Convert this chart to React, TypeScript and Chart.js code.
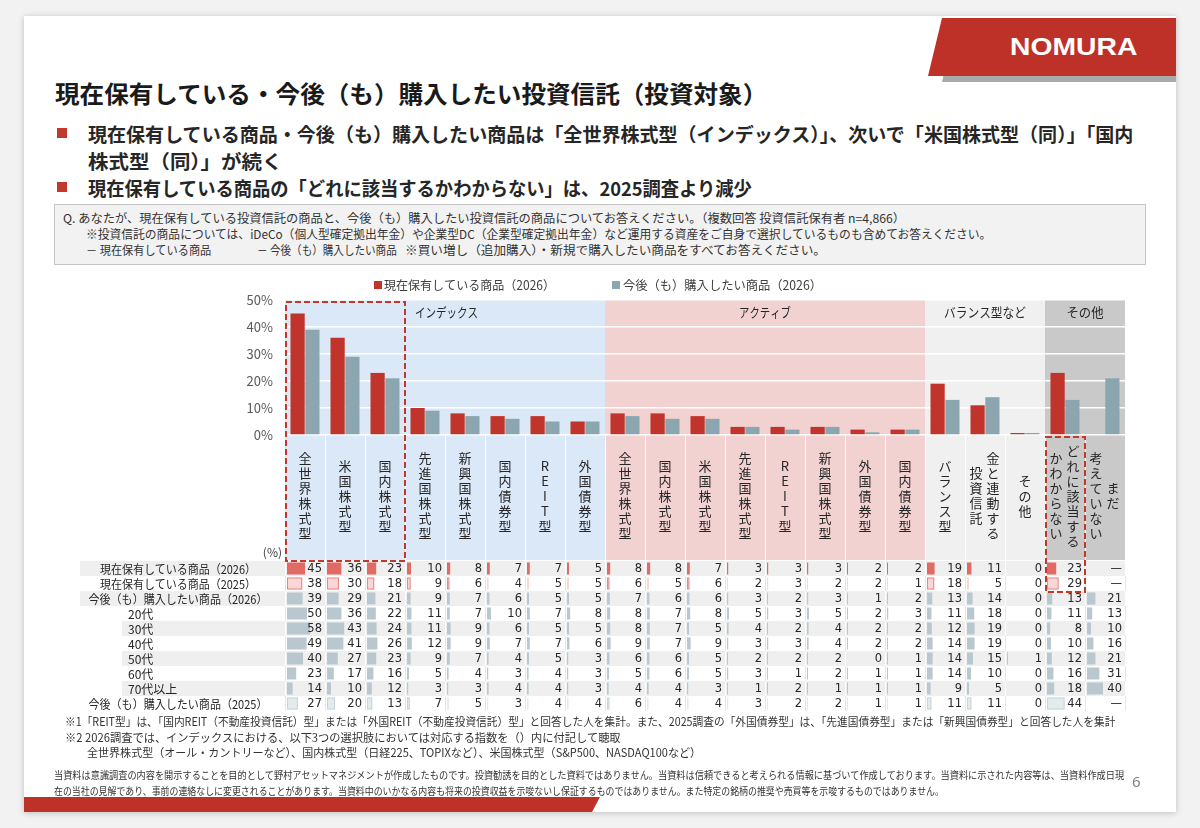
import React, { useEffect, useLayoutEffect, useRef, useState } from "react";
import { Chart, registerables } from "chart.js";

Chart.register(...registerables);

// Categories: each entry lists the vertical text columns, right column first
const categories: string[][] = [
  ["全世界株式型"], ["米国株式型"], ["国内株式型"], ["先進国株式型"], ["新興国株式型"], ["国内債券型"], ["REIT型"], ["外国債券型"],
  ["全世界株式型"], ["国内株式型"], ["米国株式型"], ["先進国株式型"], ["REIT型"], ["新興国株式型"], ["外国債券型"], ["国内債券型"],
  ["バランス型"], ["金と連動する", "投資信託"], ["その他"],
  ["どれに該当する", "かわからない"], ["まだ", "考えていない"],
];

const groupLabels = ["インデックス", "アクティブ", "バランス型など", "その他"];
const groupSizes = [8, 8, 3, 2];

const yTicks = [0, 10, 20, 30, 40, 50];

// Survey results (%), one value per category; null = not asked
const holding2026: (number | null)[] = [45, 36, 23, 10, 8, 7, 7, 5, 8, 8, 7, 3, 3, 3, 2, 2, 19, 11, 0, 23, null];
const holding2025: (number | null)[] = [38, 30, 18, 9, 6, 4, 5, 5, 6, 5, 6, 2, 3, 2, 2, 1, 18, 5, 0, 29, null];
const purchase2026: (number | null)[] = [39, 29, 21, 9, 7, 6, 5, 5, 7, 6, 6, 3, 2, 3, 1, 2, 13, 14, 0, 13, 21];
const purchase20s: (number | null)[] = [50, 36, 22, 11, 7, 10, 7, 8, 8, 7, 8, 5, 3, 5, 2, 3, 11, 18, 0, 11, 13];
const purchase30s: (number | null)[] = [58, 43, 24, 11, 9, 6, 5, 5, 8, 7, 5, 4, 2, 4, 2, 2, 12, 19, 0, 8, 10];
const purchase40s: (number | null)[] = [49, 41, 26, 12, 9, 7, 7, 6, 9, 7, 9, 3, 3, 4, 2, 2, 14, 19, 0, 10, 16];
const purchase50s: (number | null)[] = [40, 27, 23, 9, 7, 4, 5, 3, 6, 6, 5, 2, 2, 2, 0, 1, 14, 15, 1, 12, 21];
const purchase60s: (number | null)[] = [23, 17, 16, 5, 4, 3, 4, 3, 5, 6, 5, 3, 1, 2, 1, 1, 14, 10, 0, 16, 31];
const purchase70plus: (number | null)[] = [14, 10, 12, 3, 3, 4, 4, 3, 4, 4, 3, 1, 2, 1, 1, 1, 9, 5, 0, 18, 40];
const purchase2025: (number | null)[] = [27, 20, 13, 7, 5, 3, 4, 4, 6, 4, 4, 3, 2, 2, 1, 1, 11, 11, 0, 44, null];

const seriesNames = ["現在保有している商品（2026）", "今後（も）購入したい商品（2026）"];

const tableRowLabels = [
  "現在保有している商品（2026）",
  "現在保有している商品（2025）",
  "今後（も）購入したい商品（2026）",
  "20代", "30代", "40代", "50代", "60代", "70代以上",
  "今後（も）購入したい商品（2025）",
];
const tableRows = [
  holding2026, holding2025, purchase2026,
  purchase20s, purchase30s, purchase40s, purchase50s, purchase60s, purchase70plus,
  purchase2025,
];

const RED = "#c0342b";
const BLUE_GRAY = "#8ba6af";
const BAND_COLORS = ["#dae8f7", "#f2d1d1", "#f0f0f0", "#c9c9c9"];
const JP = '"Noto Sans CJK JP", "Noto Sans", sans-serif';
const NUM = '"DejaVu Sans", Verdana, sans-serif';

type RowStyle = { fill: string; stroke?: string };
const rowStyles: RowStyle[] = [
  { fill: "#e06a64" },
  { fill: "#fad7d6", stroke: "#e58985" },
  { fill: "#b8c8ce" }, { fill: "#b8c8ce" }, { fill: "#b8c8ce" }, { fill: "#b8c8ce" },
  { fill: "#b8c8ce" }, { fill: "#b8c8ce" }, { fill: "#b8c8ce" },
  { fill: "#e4ebed", stroke: "#c8d4d8" },
];

function fitText(ctx: CanvasRenderingContext2D, text: string, x: number, y: number, w: number, align: CanvasTextAlign) {
  const nat = ctx.measureText(text).width;
  const s = nat > 0 ? w / nat : 1;
  ctx.save();
  ctx.translate(x, y);
  ctx.scale(s, 1);
  ctx.textAlign = align;
  ctx.fillText(text, 0, 0);
  ctx.restore();
}

const slidePlugin = {
  id: "slideDecor",
  beforeDraw(chart: any) {
    const { ctx, chartArea: ca } = chart;
    const xs = chart.scales.x;
    const step = xs.getPixelForValue(1) - xs.getPixelForValue(0);
    const colL = (i: number) => xs.getPixelForValue(0) - step / 2 + i * step;
    const labelBottom = ca.bottom + 125;
    ctx.save();
    let start = 0;
    groupSizes.forEach((size, gi) => {
      ctx.fillStyle = BAND_COLORS[gi];
      ctx.fillRect(colL(start), ca.top, colL(start + size) - colL(start), labelBottom - ca.top);
      start += size;
    });
    ctx.strokeStyle = "rgba(255,255,255,0.9)";
    ctx.lineWidth = 1;
    for (let i = 1; i < categories.length; i++) {
      const xx = Math.round(colL(i)) + 0.5;
      ctx.beginPath();
      ctx.moveTo(xx, ca.bottom);
      ctx.lineTo(xx, labelBottom);
      ctx.stroke();
    }
    ctx.restore();
  },
  afterDraw(chart: any) {
    const { ctx, chartArea: ca } = chart;
    const xs = chart.scales.x;
    const step = xs.getPixelForValue(1) - xs.getPixelForValue(0);
    const colL = (i: number) => xs.getPixelForValue(0) - step / 2 + i * step;
    const n = categories.length;
    ctx.save();
    ctx.textBaseline = "middle";

    // legend
    ctx.font = `12.5px ${JP}`;
    ctx.fillStyle = RED;
    ctx.fillRect(314, 9, 8, 8);
    ctx.fillStyle = BLUE_GRAY;
    ctx.fillRect(552, 9, 8, 8);
    ctx.fillStyle = "#404040";
    fitText(ctx, seriesNames[0], 324, 13.5, 171, "left");
    fitText(ctx, seriesNames[1], 563, 13.5, 199, "left");

    // group headers
    ctx.font = `13px ${JP}`;
    ctx.fillStyle = "#262626";
    const hy = ca.top + 12;
    fitText(ctx, groupLabels[0], colL(3) + 10, hy, 63, "left");
    let s = groupSizes[0];
    const hw = [0, 52, 82, 37];
    for (let g = 1; g < groupSizes.length; g++) {
      const cx = (colL(s) + colL(s + groupSizes[g])) / 2;
      fitText(ctx, groupLabels[g], cx, hy, hw[g], "center");
      s += groupSizes[g];
    }

    // vertical category labels
    ctx.font = `13px ${JP}`;
    ctx.textAlign = "center";
    ctx.fillStyle = "#262626";
    const labelCenter = ca.bottom + 61;
    const charStep = 15;
    categories.forEach((cols, i) => {
      const cx = xs.getPixelForValue(i);
      const offs = cols.length === 1 ? [0] : [8, -9];
      cols.forEach((col, ci) => {
        const chars = Array.from(col);
        const y0 = labelCenter - ((chars.length - 1) * charStep) / 2;
        chars.forEach((ch, k) => ctx.fillText(ch, cx + offs[ci], y0 + k * charStep));
      });
    });

    // unit
    ctx.font = `12px ${JP}`;
    ctx.textAlign = "right";
    ctx.fillStyle = "#404040";
    ctx.fillText("(%)", 222, ca.bottom + 117);

    // data table
    const tableTop = ca.bottom + 126;
    const rowH = 15;
    const tableRight = colL(n);
    tableRows.forEach((vals, r) => {
      const y = tableTop + r * rowH;
      const isAge = r >= 3 && r <= 8;
      const gray = r % 2 === 0;
      const left = isAge ? 62 : 20;
      ctx.fillStyle = gray ? "#efefef" : "#ffffff";
      ctx.fillRect(left, y, tableRight - left, rowH);
      ctx.strokeStyle = gray ? "#ffffff" : "#e6e6e6";
      ctx.lineWidth = 1;
      for (let i = 0; i <= n; i++) {
        const xx = Math.round(colL(i)) + 0.5;
        ctx.beginPath();
        ctx.moveTo(xx, y);
        ctx.lineTo(xx, y + rowH);
        ctx.stroke();
      }
      // row label
      ctx.fillStyle = "#262626";
      if (isAge) {
        ctx.font = `12px ${JP}`;
        ctx.textAlign = "left";
        ctx.fillText(tableRowLabels[r], 68, y + rowH / 2 + 0.5);
      } else {
        ctx.font = `12px ${JP}`;
        const w = r < 2 ? 156 : 179;
        fitText(ctx, tableRowLabels[r], 118, y + rowH / 2 + 0.5, w, "center");
      }
      // cells
      const st = rowStyles[r];
      vals.forEach((v, i) => {
        const x0 = colL(i);
        if (v !== null && v > 0) {
          const bw = Math.max(1, v * 0.4);
          ctx.fillStyle = st.fill;
          ctx.fillRect(x0 + 2, y + 1.5, bw, rowH - 3);
          if (st.stroke && bw > 2) {
            ctx.strokeStyle = st.stroke;
            ctx.strokeRect(x0 + 2.5, y + 2, bw - 1, rowH - 4);
          }
        }
        ctx.fillStyle = "#262626";
        ctx.font = `11.5px ${NUM}`;
        ctx.textAlign = "right";
        ctx.fillText(v === null ? "—" : String(v), colL(i + 1) - 3, y + rowH / 2 + 0.5);
      });
    });

    // highlight boxes
    ctx.strokeStyle = "#c0392b";
    ctx.lineWidth = 2;
    ctx.setLineDash([6, 3]);
    ctx.strokeRect(colL(0) + 1, ca.top + 2, colL(3) - colL(0) - 1, tableTop - ca.top - 2);
    ctx.strokeRect(colL(19) + 1, ca.bottom + 2, colL(20) - colL(19) - 1, tableTop + 2 * rowH - ca.bottom - 1);
    ctx.setLineDash([]);
    ctx.restore();
  },
};

function Fit(props: { x: number; cy: number; w: number; size: number; weight?: number; color?: string; family?: string; children: React.ReactNode }) {
  const { x, cy, w, size, weight = 400, color = "#262626", family = JP, children } = props;
  const ref = useRef<HTMLSpanElement>(null);
  const [scale, setScale] = useState(1);
  useLayoutEffect(() => {
    const el = ref.current;
    if (el && el.offsetWidth > 0) setScale(w / el.offsetWidth);
  }, [w]);
  return (
    <div
      style={{
        position: "absolute",
        left: x,
        top: cy - size / 2,
        height: size,
        lineHeight: `${size}px`,
        fontSize: size,
        fontWeight: weight,
        fontFamily: family,
        color,
        whiteSpace: "nowrap",
        transform: `scaleX(${scale})`,
        transformOrigin: "0 50%",
      }}
    >
      <span ref={ref}>{children}</span>
    </div>
  );
}

function BarChart() {
  const ref = useRef<HTMLCanvasElement>(null);
  useEffect(() => {
    if (!ref.current) return;
    Chart.defaults.font.family = JP;
    const chart = new Chart(ref.current, {
      type: "bar",
      data: {
        labels: categories.map((c) => c.join("")),
        datasets: [
          {
            label: seriesNames[0],
            data: holding2026,
            backgroundColor: RED,
            barPercentage: 0.96,
            categoryPercentage: 0.74,
            minBarLength: 2,
          },
          {
            label: seriesNames[1],
            data: purchase2026,
            backgroundColor: BLUE_GRAY,
            barPercentage: 0.96,
            categoryPercentage: 0.74,
            minBarLength: 2,
          },
        ],
      },
      options: {
        animation: false,
        responsive: false,
        maintainAspectRatio: false,
        layout: { padding: { left: 175, right: 15, top: 28, bottom: 282 } },
        plugins: { legend: { display: false }, tooltip: { enabled: false } },
        scales: {
          x: { display: false },
          y: {
            min: 0,
            max: 50,
            afterFit: (sc: any) => {
              sc.width = 50;
            },
            afterBuildTicks: (sc: any) => {
              sc.ticks = yTicks.map((v) => ({ value: v }));
            },
            border: { display: false },
            grid: { color: "#ffffff", lineWidth: 1.5, drawTicks: false },
            ticks: {
              padding: 12,
              color: "#595959",
              font: { size: 13, family: JP },
              callback: (v: any) => `${v}%`,
            },
          },
        },
      },
      plugins: [slidePlugin],
    });
    return () => chart.destroy();
  }, []);
  return <canvas ref={ref} width={1080} height={445} style={{ position: "absolute", left: 60, top: 272, width: 1080, height: 445 }} />;
}

export default function App() {
  return (
    <div style={{ position: "fixed", left: 0, top: 0, width: 1200, height: 828, background: "#f2f2f2", overflow: "hidden", fontFamily: JP }}>
      {/* slide card */}
      <div style={{ position: "absolute", left: 24, top: 16, width: 1152, height: 796, background: "#ffffff", boxShadow: "0 1px 6px rgba(0,0,0,0.22)" }} />
      {/* logo banner */}
      <div style={{ position: "absolute", left: 0, top: 0, width: 1200, height: 100, background: "#a9a9a9", clipPath: "polygon(956px 22px, 1176px 22px, 1176px 82px, 942px 82px)" }} />
      <div style={{ position: "absolute", left: 0, top: 0, width: 1200, height: 100, background: "#be3128", clipPath: "polygon(942px 18px, 1176px 18px, 1176px 76px, 928px 76px)" }} />
      <Fit x={1010} cy={47} w={128} size={23} weight={700} color="#ffffff" family='"Liberation Sans", Arial, sans-serif'>NOMURA</Fit>

      {/* title and bullets */}
      <Fit x={55} cy={93} w={712} size={24} weight={700} color="#1a1a1a">現在保有している・今後（も）購入したい投資信託（投資対象）</Fit>
      <div style={{ position: "absolute", left: 57, top: 128, width: 10, height: 10, background: "#c0392b" }} />
      <div style={{ position: "absolute", left: 57, top: 182, width: 10, height: 10, background: "#c0392b" }} />
      <Fit x={88} cy={133} w={1045} size={19} weight={700}>現在保有している商品・今後（も）購入したい商品は「全世界株式型（インデックス）」、次いで「米国株式型（同）」「国内</Fit>
      <Fit x={88} cy={160} w={195} size={19} weight={700}>株式型（同）」が続く</Fit>
      <Fit x={88} cy={187} w={664} size={19} weight={700}>現在保有している商品の「どれに該当するかわからない」は、2025調査より減少</Fit>

      {/* question box */}
      <div style={{ position: "absolute", left: 54, top: 204, width: 1090, height: 59, background: "#f2f2f2", border: "1px solid #c4c4c4" }} />
      <Fit x={63} cy={218} w={842} size={12} color="#333333">Q. あなたが、現在保有している投資信託の商品と、今後（も）購入したい投資信託の商品についてお答えください。（複数回答 投資信託保有者 n=4,866）</Fit>
      <Fit x={86} cy={234} w={905} size={12} color="#333333">※投資信託の商品については、iDeCo（個人型確定拠出年金）や企業型DC（企業型確定拠出年金）など運用する資産をご自身で選択しているものも含めてお答えください。</Fit>
      <Fit x={86} cy={250} w={125} size={12} color="#333333">－ 現在保有している商品</Fit>
      <Fit x={257} cy={250} w={140} size={12} color="#333333">－ 今後（も）購入したい商品</Fit>
      <Fit x={405} cy={250} w={421} size={12} color="#333333">※買い増し（追加購入）・新規で購入したい商品をすべてお答えください。</Fit>

      <BarChart />

      {/* footnotes */}
      <Fit x={65} cy={722} w={1050} size={11.5} color="#333333">※1「REIT型」は、「国内REIT（不動産投資信託）型」または「外国REIT（不動産投資信託）型」と回答した人を集計。また、2025調査の「外国債券型」は、「先進国債券型」または「新興国債券型」と回答した人を集計</Fit>
      <Fit x={65} cy={738} w={556} size={11.5} color="#333333">※2 2026調査では、インデックスにおける、以下3つの選択肢においては対応する指数を（）内に付記して聴取</Fit>
      <Fit x={87} cy={753} w={614} size={11.5} color="#333333">全世界株式型（オール・カントリーなど）、国内株式型（日経225、TOPIXなど）、米国株式型（S&amp;P500、NASDAQ100など）</Fit>

      {/* disclaimer */}
      <Fit x={54} cy={775} w={1070} size={10} color="#333333">当資料は意識調査の内容を開示することを目的として野村アセットマネジメントが作成したものです。投資勧誘を目的とした資料ではありません。当資料は信頼できると考えられる情報に基づいて作成しております。当資料に示された内容等は、当資料作成日現</Fit>
      <Fit x={54} cy={791} w={890} size={10} color="#333333">在の当社の見解であり、事前の連絡なしに変更されることがあります。当資料中のいかなる内容も将来の投資収益を示唆ないし保証するものではありません。また特定の銘柄の推奨や売買等を示唆するものではありません。</Fit>
      <div style={{ position: "absolute", left: 1132, top: 772, fontSize: 15, color: "#7f7f7f", fontFamily: '"Noto Sans", sans-serif', lineHeight: "18px" }}>6</div>

      {/* bottom stripe */}
      <div style={{ position: "absolute", left: 0, top: 0, width: 1200, height: 828, background: "#be3128", clipPath: "polygon(24px 797px, 600px 797px, 592px 812px, 24px 812px)" }} />
    </div>
  );
}
